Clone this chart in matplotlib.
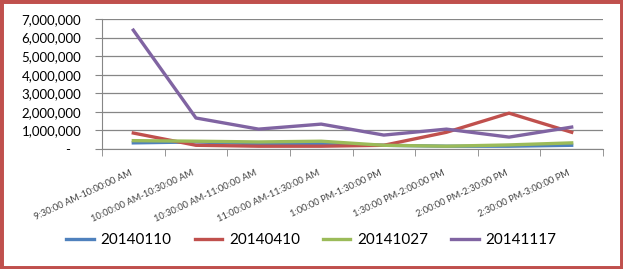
#!/usr/bin/env python3

"""
Intraday volume by half-hour slot, four trade dates
"""

import matplotlib
matplotlib.use("Agg")
import matplotlib.pyplot as plt
from matplotlib.patches import Rectangle
import numpy as np

plt.rcParams["font.family"] = ["Lato", "DejaVu Sans"]

slots = ["9:30:00 AM-10:00:00 AM", "10:00:00 AM-10:30:00 AM",
         "10:30:00 AM-11:00:00 AM", "11:00:00 AM-11:30:00 AM",
         "1:00:00 PM-1:30:00 PM", "1:30:00 PM-2:00:00 PM",
         "2:00:00 PM-2:30:00 PM", "2:30:00 PM-3:00:00 PM"]

d20140110 = [330000, 380000, 280000, 280000, 200000, 150000, 150000, 200000]
d20140410 = [860000, 200000, 150000, 150000, 200000, 900000, 1930000, 900000]
d20141027 = [450000, 420000, 380000, 420000, 200000, 150000, 220000, 330000]
d20141117 = [6400000, 1670000, 1070000, 1340000, 750000, 1070000, 640000, 1180000]

series = [("20140110", d20140110, "#4F81BD"),
          ("20140410", d20140410, "#C0504D"),
          ("20141027", d20141027, "#9BBB59"),
          ("20141117", d20141117, "#8064A2")]

yticks = [0, 1000000, 2000000, 3000000, 4000000, 5000000, 6000000, 7000000]
ytick_labels = ["-   ", "1,000,000", "2,000,000", "3,000,000", "4,000,000",
                "5,000,000", "6,000,000", "7,000,000"]

W, H = 623, 269
fig = plt.figure(figsize=(W / 100, H / 100), dpi=100)
ax = fig.add_axes([102 / W, 1 - 149 / H, 501 / W, 130 / H])

x = np.arange(len(slots))
for name, vals, col in series:
    ax.plot(x, vals, color=col, lw=2.4, label=name, solid_joinstyle="round")

ax.set_xlim(-0.5, len(slots) - 0.5)
ax.set_ylim(0, 7000000)
ax.set_yticks(yticks)
ax.set_yticklabels(ytick_labels, fontsize=9.5)
ax.yaxis.grid(True, color="#868686", lw=0.9)
ax.set_axisbelow(True)

ax.set_xticks(x)
ax.set_xticklabels(slots, fontsize=6.7, rotation=25, ha="right", va="top",
                   color="#404040")
ax.set_xticks(np.arange(-0.5, len(slots)), minor=True)
ax.tick_params(axis="x", which="major", length=0, pad=14)
ax.tick_params(axis="x", which="minor", length=5, color="#868686", direction="out")
ax.tick_params(axis="y", length=5, color="#868686", pad=10)

for s in ["top", "right"]:
    ax.spines[s].set_visible(False)
for s in ["left", "bottom"]:
    ax.spines[s].set_color("#868686")

fig.legend(loc="center", bbox_to_anchor=(0.5, 1 - 240 / H), ncol=4,
           frameon=False, fontsize=11, handlelength=1.8, handletextpad=0.45,
           columnspacing=1.5)

fig.patches.append(Rectangle((0, 0), 1, 1, transform=fig.transFigure,
                             fill=False, edgecolor="#C0504D", lw=5))

fig.savefig("out.png", dpi=100)
plt.close(fig)
